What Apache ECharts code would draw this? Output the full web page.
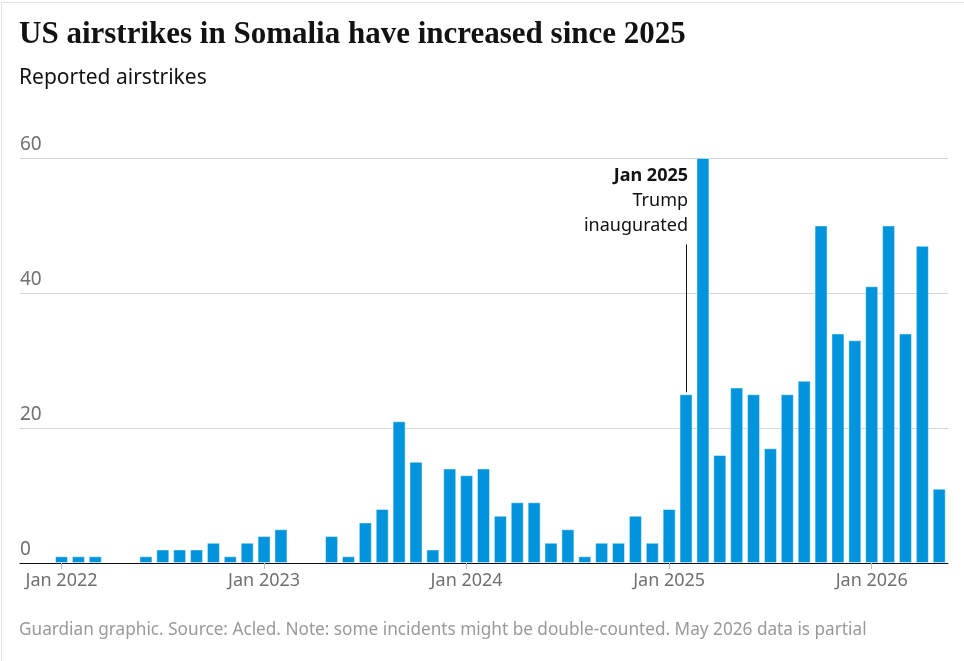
<!DOCTYPE html>
<html lang="en">
<head>
  <meta charset="UTF-8">
  <title>US airstrikes in Somalia</title>
  <script src="https://cdn.jsdelivr.net/npm/echarts@6/dist/echarts.min.js"></script>
  <style>
    html, body { margin: 0; padding: 0; background: #fff; }
    #main { width: 964px; height: 661px; }
    #frame { position: absolute; left: 1px; top: 2px; width: 963px; height: 659px;
             border-left: 1px solid #e3e3e3; border-top: 1px solid #e3e3e3; pointer-events: none; }
  </style>
</head>
<body>
<div id="main"></div>
<div id="frame"></div>
<script type="text/javascript">
  // monthly reported airstrikes, Jan 2022 -> May 2026 (May 2026 partial)
  var strikes2022 = [1, 1, 1, 0, 0, 1, 2, 2, 2, 3, 1, 3];
  var strikes2023 = [4, 5, 0, 0, 4, 1, 6, 8, 21, 15, 2, 14];
  var strikes2024 = [13, 14, 7, 9, 9, 3, 5, 1, 3, 3, 7, 3];
  var strikes2025 = [8, 25, 60, 16, 26, 25, 17, 25, 27, 50, 34, 33];
  var strikes2026 = [41, 50, 34, 47, 11];

  var tickLabels = ['Jan 2022', 'Jan 2023', 'Jan 2024', 'Jan 2025', 'Jan 2026'];
  var tickIndex = [0, 12, 24, 36, 48];

  // annotation: inauguration month bar
  var noteIndex = 37;
  var noteValue = 25;

  var values = [].concat(strikes2022, strikes2023, strikes2024, strikes2025, strikes2026);
  // months with no strikes draw nothing (avoid a border sliver on the baseline)
  var barData = values.map(function (v, i) { return v ? [i, v] : [i, null]; });

  var font = 'Noto Sans';
  var grey = '#707070';

  var myChart = echarts.init(document.getElementById('main'));

  var option = {
    animation: false,
    title: [{
      text: 'US airstrikes in Somalia have increased since 2025',
      subtext: 'Reported airstrikes',
      left: 14,
      top: 12,
      itemGap: 12,
      textStyle: { fontFamily: 'Liberation Serif', fontWeight: 'bold', fontSize: 31, color: '#121212', lineHeight: 36 },
      subtextStyle: { fontFamily: font, fontSize: 21, color: '#121212', lineHeight: 26 }
    }, {
      text: 'Guardian graphic. Source: Acled. Note: some incidents might be double-counted. May 2026 data is partial',
      left: 14,
      top: 617,
      textStyle: { fontFamily: font, fontWeight: 'normal', fontSize: 17.2, color: '#999999' }
    }],
    grid: { left: 20, right: 16, top: 158, bottom: 98 },
    xAxis: {
      type: 'value',
      min: -2.46,
      max: 52.52,
      splitLine: { show: false },
      axisLine: { show: true, onZero: true, lineStyle: { color: '#121212', width: 1 } },
      axisTick: { show: true, customValues: tickIndex, length: 6, lineStyle: { color: '#bbbbbb' } },
      axisLabel: {
        customValues: tickIndex,
        margin: 9,
        fontFamily: font,
        fontSize: 18,
        color: grey,
        formatter: function (v) { return tickLabels[tickIndex.indexOf(Math.round(v))]; }
      }
    },
    yAxis: {
      type: 'value',
      min: 0,
      max: 60,
      interval: 20,
      axisLine: { show: false },
      axisTick: { show: false },
      splitLine: { lineStyle: { color: '#d6d6d6', width: 1 } },
      axisLabel: {
        inside: true,
        margin: 0,
        verticalAlign: 'bottom',
        padding: [0, 0, 4, 0],
        fontFamily: font,
        fontSize: 19,
        color: grey
      }
    },
    series: [{
      type: 'bar',
      data: barData,
      barWidth: 13,
      itemStyle: { color: '#0094dc', borderColor: 'rgba(255,255,255,0.45)', borderWidth: 1 },
      markLine: {
        silent: true,
        symbol: ['none', 'none'],
        label: { show: false },
        lineStyle: { color: '#121212', width: 1, type: 'solid' },
        data: [[{ coord: [noteIndex, noteValue + 0.3] }, { coord: [noteIndex, 47.2] }]]
      },
      markPoint: {
        silent: true,
        symbol: 'circle',
        symbolSize: 0,
        data: [{ coord: [noteIndex, 47.2] }],
        label: {
          show: true,
          position: 'top',
          align: 'right',
          distance: 6,
          offset: [2, 0],
          formatter: '{b|Jan 2025}\n{n|Trump}\n{n|inaugurated}',
          rich: {
            b: { fontFamily: font, fontWeight: 'bold', fontSize: 18, color: '#121212', lineHeight: 25, align: 'right' },
            n: { fontFamily: font, fontSize: 18, color: '#121212', lineHeight: 25, align: 'right' }
          }
        }
      }
    }]
  };

  myChart.setOption(option);
</script>
</body>
</html>
